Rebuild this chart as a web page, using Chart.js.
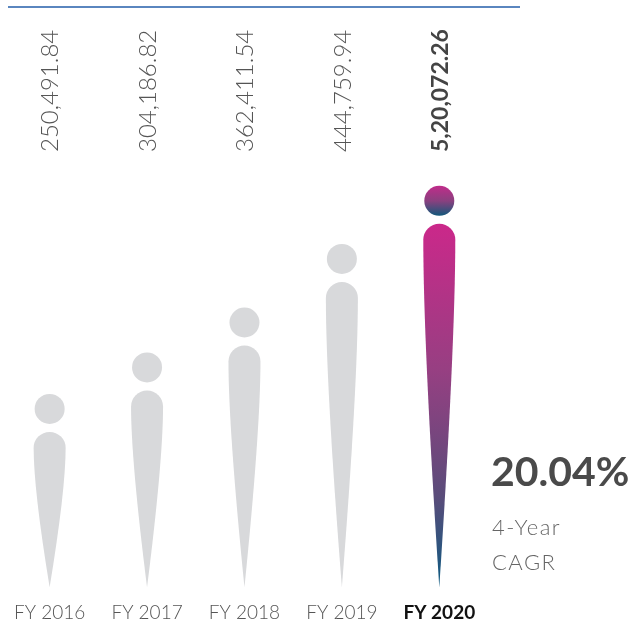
<!DOCTYPE html>
<html>
<head>
    <title>FY Growth</title>
    <script src="https://cdn.jsdelivr.net/npm/chart.js"></script>
    <style>
        body { margin: 0; background: #fff; }
        #wrap { width: 633px; height: 625px; position: relative; }
    </style>
</head>
<body>

<div id="wrap"><canvas id="myChart"></canvas></div>

<script>
    // Data
    const years = ['FY 2016', 'FY 2017', 'FY 2018', 'FY 2019', 'FY 2020'];
    const values = [250491.84, 304186.82, 362411.54, 444759.94, 520072.26];
    const valueLabels = ['250,491.84', '304,186.82', '362,411.54', '444,759.94', '5,20,072.26'];
    const cagr = '20.04%';
    const cagrLabel = ['4-Year', 'CAGR'];

    const lastIdx = values.length - 1;

    // draws the "i" shapes (dot + teardrop) from the bar elements
    const figurePlugin = {
        id: 'figures',
        afterDatasetsDraw(chart) {
            const ctx = chart.ctx;
            const meta = chart.getDatasetMeta(0);
            meta.data.forEach((bar, i) => {
                const x = bar.x;
                const top = bar.y;        // top of the dot
                const base = bar.base;    // tip of the drop
                const r = 15;             // dot radius
                const w = 16;             // drop half width
                const dropTop = top + 38;
                const hi = i === lastIdx;

                ctx.save();
                // dot
                if (hi) {
                    const g = ctx.createLinearGradient(0, top, 0, top + 2 * r);
                    g.addColorStop(0, '#c02c8a');
                    g.addColorStop(0.5, '#8a407f');
                    g.addColorStop(1, '#11587a');
                    ctx.fillStyle = g;
                } else {
                    ctx.fillStyle = '#d8d9db';
                }
                ctx.beginPath();
                ctx.arc(x, top + r, r, 0, Math.PI * 2);
                ctx.fill();

                // drop
                if (hi) {
                    const g2 = ctx.createLinearGradient(0, dropTop, 0, base);
                    g2.addColorStop(0, '#cb288a');
                    g2.addColorStop(0.4, '#973f82');
                    g2.addColorStop(0.75, '#5a4c7a');
                    g2.addColorStop(1, '#0c5a80');
                    ctx.fillStyle = g2;
                }
                const cy = dropTop + w;
                const ctrlY = cy + (base - cy) * 0.3;
                ctx.beginPath();
                ctx.moveTo(x, base);
                ctx.quadraticCurveTo(x - w, ctrlY, x - w, cy);
                ctx.arc(x, cy, w, Math.PI, 0);
                ctx.quadraticCurveTo(x + w, ctrlY, x, base);
                ctx.closePath();
                ctx.fill();

                // value text, rotated
                ctx.translate(x + 1, 152);
                ctx.rotate(-Math.PI / 2);
                ctx.textAlign = 'left';
                ctx.textBaseline = 'middle';
                if (hi) {
                    ctx.font = 'bold 23px Lato';
                    ctx.fillStyle = '#444';
                } else {
                    ctx.font = '300 24px Lato';
                    ctx.fillStyle = '#555';
                }
                ctx.fillText(valueLabels[i], 0, 0);
                ctx.restore();
            });

            // top rule
            ctx.save();
            ctx.strokeStyle = '#5a86bf';
            ctx.lineWidth = 2;
            ctx.beginPath();
            ctx.moveTo(8, 7);
            ctx.lineTo(520, 7);
            ctx.stroke();

            // CAGR block
            ctx.textAlign = 'left';
            ctx.textBaseline = 'alphabetic';
            ctx.fillStyle = '#4a4a4a';
            ctx.font = 'bold 41px Lato';
            ctx.fillText(cagr, 491, 486);
            ctx.fillStyle = '#666';
            ctx.font = '300 22px Lato';
            ctx.letterSpacing = '1.5px';
            ctx.fillText(cagrLabel[0], 492, 535);
            ctx.fillText(cagrLabel[1], 492, 570);
            ctx.restore();
        }
    };

    const config = {
        type: 'bar',
        data: {
            labels: years,
            datasets: [{
                data: values,
                backgroundColor: 'rgba(0,0,0,0)'
            }]
        },
        options: {
            responsive: true,
            maintainAspectRatio: false,
            animation: false,
            layout: {
                padding: { left: 0, right: 145, top: 30, bottom: -13 }
            },
            plugins: {
                legend: { display: false },
                tooltip: { enabled: false }
            },
            scales: {
                y: {
                    display: false,
                    min: 0,
                    max: 722000
                },
                x: {
                    grid: { display: false, drawTicks: false },
                    border: { display: false },
                    ticks: {
                        padding: 14,
                        maxRotation: 0,
                        color: (c) => c.index === lastIdx ? '#111' : '#555',
                        font: (c) => c.index === lastIdx
                            ? { family: 'Lato', size: 19, weight: 'bold' }
                            : { family: 'Lato', size: 19, weight: '300' }
                    }
                }
            }
        },
        plugins: [figurePlugin]
    };

    window.onload = function() {
        const ctx = document.getElementById('myChart').getContext('2d');
        new Chart(ctx, config);
    };
</script>

</body>
</html>
